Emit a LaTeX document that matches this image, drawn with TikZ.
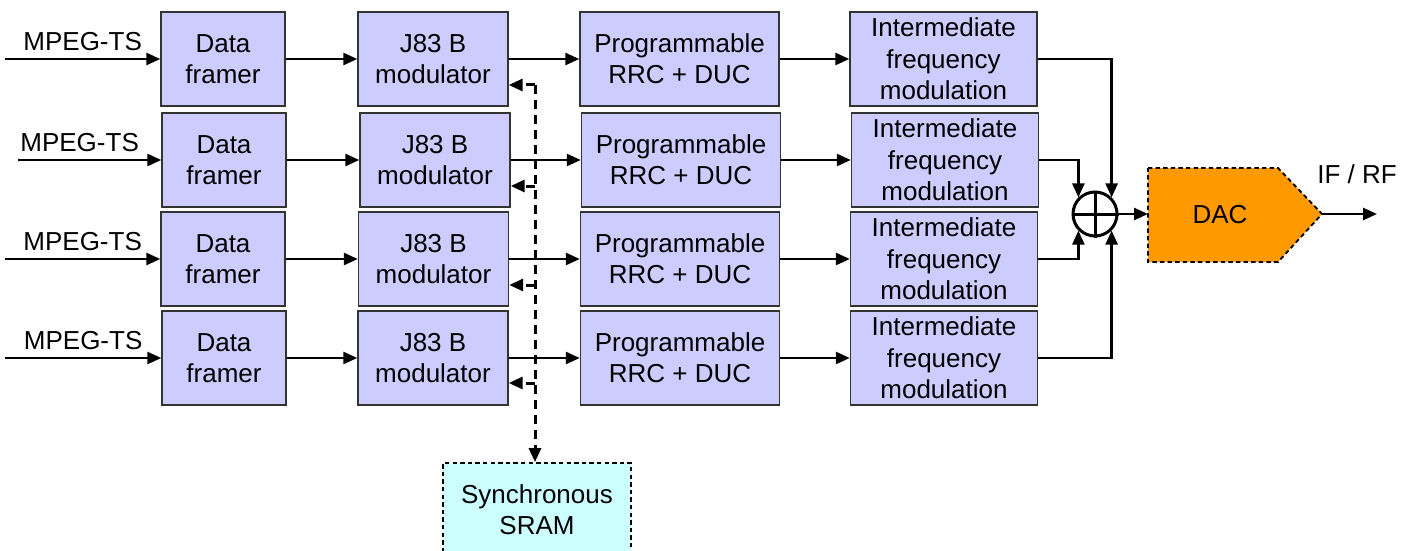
\documentclass[tikz,border=0pt]{standalone}
\usepackage{fontspec}
\setmainfont{Liberation Sans}
\usetikzlibrary{arrows.meta}
\definecolor{blkfill}{HTML}{CCCCFF}
\definecolor{sramfill}{HTML}{CCFFFF}
\definecolor{dacfill}{HTML}{FF9900}

\begin{document}
\begin{tikzpicture}[x=0.5pt,y=-0.5pt,
    every node/.style={font=\fontsize{13}{15.7}\selectfont, align=center},
    blk/.style={draw=black!80, line width=0.7pt, fill=blkfill, inner sep=0pt, minimum height=47pt},
    df/.style={blk, minimum width=62pt},
    jb/.style={blk, minimum width=75pt},
    rrc/.style={blk, minimum width=99.5pt},
    ifm/.style={blk, minimum width=93.5pt},
    sig/.style={line width=1.3pt, -{Triangle[length=7pt,width=6pt]}},
    bus/.style={line width=1.5pt, dash pattern=on 4.5pt off 3pt, -{Triangle[length=7pt,width=6pt]}},
    dashbox/.style={draw=black, line width=0.9pt, dash pattern=on 2.2pt off 1.6pt}]
    \useasboundingbox (0,0) rectangle (1413,551);

    % --- CHANNEL ROWS ---
    \node[df] (df1) at (223,59) {Data\\framer};
    \node[jb] (jb1) at (433,59) {J83 B\\modulator};
    \node[rrc] (rrc1) at (679.5,59) {Programmable\\RRC + DUC};
    \node[ifm] (ifm1) at (943.5,59) {Intermediate\\frequency\\modulation};

    \node[df] (df2) at (224,160) {Data\\framer};
    \node[jb] (jb2) at (435,160) {J83 B\\modulator};
    \node[rrc] (rrc2) at (681,160) {Programmable\\RRC + DUC};
    \node[ifm] (ifm2) at (945,160) {Intermediate\\frequency\\modulation};

    \node[df] (df3) at (223,259) {Data\\framer};
    \node[jb] (jb3) at (433.5,259) {J83 B\\modulator};
    \node[rrc] (rrc3) at (680,259) {Programmable\\RRC + DUC};
    \node[ifm] (ifm3) at (944,259) {Intermediate\\frequency\\modulation};

    \node[df] (df4) at (224,358) {Data\\framer};
    \node[jb] (jb4) at (433,358) {J83 B\\modulator};
    \node[rrc] (rrc4) at (680,358) {Programmable\\RRC + DUC};
    \node[ifm] (ifm4) at (944,358) {Intermediate\\frequency\\modulation};

    \coordinate (in1) at (5,59);
    \coordinate (in2) at (18,160);
    \coordinate (in3) at (5,259);
    \coordinate (in4) at (5,358);
    \draw[sig] (in1) -- node[above] {MPEG-TS} (df1);
    \draw[sig] (in2) -- node[above, pos=0.43] {MPEG-TS} (df2);
    \draw[sig] (in3) -- node[above] {MPEG-TS} (df3);
    \draw[sig] (in4) -- node[above] {MPEG-TS} (df4);
    \draw[sig] (df1) -- (jb1);  \draw[sig] (jb1) -- (rrc1);  \draw[sig] (rrc1) -- (ifm1);
    \draw[sig] (df2) -- (jb2);  \draw[sig] (jb2) -- (rrc2);  \draw[sig] (rrc2) -- (ifm2);
    \draw[sig] (df3) -- (jb3);  \draw[sig] (jb3) -- (rrc3);  \draw[sig] (rrc3) -- (ifm3);
    \draw[sig] (df4) -- (jb4);  \draw[sig] (jb4) -- (rrc4);  \draw[sig] (rrc4) -- (ifm4);

    % --- MEMORY BUS ---
    \node[dashbox, fill=sramfill, minimum width=94pt, minimum height=47pt, inner sep=0pt] (sram) at (537,510) {Synchronous\\SRAM};
    \coordinate (bus1) at (535,85);
    \coordinate (bus2) at (535,186);
    \coordinate (bus3) at (535,285);
    \coordinate (bus4) at (535,383);
    \draw[bus] (bus1) -- (bus1 |- sram.north);
    \draw[bus] (bus1) -- (bus1 -| jb1.east);
    \draw[bus] (bus2) -- (bus2 -| jb2.east);
    \draw[bus] (bus3) -- (bus3 -| jb3.east);
    \draw[bus] (bus4) -- (bus4 -| jb4.east);

    % --- SUM AND DAC ---
    \node[draw, circle, line width=1.5pt, minimum size=22pt, inner sep=0pt] (sum) at (1095,214) {};
    \draw[line width=1.5pt] (sum.north) -- (sum.south) (sum.west) -- (sum.east);
    \draw[sig] (ifm1.east) -| (sum.45);
    \draw[sig] (ifm2.east) -| (sum.135);
    \draw[sig] (ifm3.east) -| (sum.225);
    \draw[sig] (ifm4.east) -| (sum.315);

    \def\dacshape{ (1148,168) -- (1278,168) -- (1322,214) -- (1278,262) -- (1148,262) -- cycle};
    \fill[dacfill] \dacshape;
    \draw[dashbox] \dacshape;
    \node (dac) at (1220,215) {DAC};
    \coordinate (dacin) at (1148,214);
    \coordinate (dacout) at (1322,214);
    \coordinate (out) at (1377,214);
    \draw[sig] (sum.east) -- (dacin);
    \draw[sig] (dacout) -- (out);
    \node (ifrf) at (1357,174) {IF / RF};
\end{tikzpicture}
\end{document}
